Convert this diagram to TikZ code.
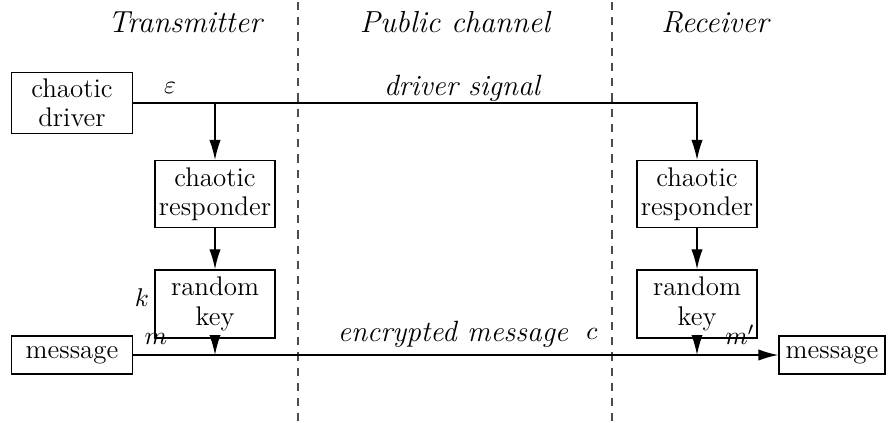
\documentclass[tikz,border=0pt]{standalone}
\usetikzlibrary{arrows.meta}

\begin{document}
\begin{tikzpicture}[x=0.015cm,y=-0.015cm,>=Latex,
  blk/.style={draw,line width=0.6pt,minimum width=1.8cm,align=center,inner sep=1pt,
    font=\fontsize{11.5}{12.5}\selectfont},
  arr/.style={-{Latex[length=3mm,width=1.7mm]},line width=0.6pt},
  head/.style={font=\fontsize{13}{15}\selectfont\itshape},
  lab/.style={font=\fontsize{12.5}{14}\selectfont\itshape},
  sym/.style={font=\fontsize{11}{13}\selectfont},
  divider/.style={line width=0.5pt,black!70,dash pattern=on 3.5pt off 3pt}]
\useasboundingbox (0,0) rectangle (890,423);

\node[head] (tx) at (185,22) {Transmitter};
\node[head] (pub) at (455,22) {Public channel};
\node[head] (rx) at (715,22) {Receiver};
\draw[divider] (298,2) -- (298,421);
\draw[divider] (612,2) -- (612,421);

\node[blk,minimum width=1.815cm,minimum height=0.915cm] (driver) at (72,103) {chaotic\\driver};
\node[blk,minimum height=1.0cm] (respL) at (215,194) {chaotic\\responder};
\node[blk,minimum height=1.0cm] (respR) at (697,194) {chaotic\\responder};
\node[blk,minimum height=1.02cm] (keyL) at (215,304) {random\\key};
\node[blk,minimum height=1.02cm] (keyR) at (697,304) {random\\key};
\node[blk,minimum width=1.815cm,minimum height=0.57cm] (msgL) at (72,355) {message};
\node[blk,minimum width=1.59cm,minimum height=0.57cm] (msgR) at (832,355) {message};

\draw[arr] (driver.east) -| (respR.north);
\draw[arr] (respL.north |- driver.east) -- (respL.north);
\draw[arr] (respL) -- (keyL);
\draw[arr] (respR) -- (keyR);
\draw[arr] (msgL) -- (msgR);
\draw[arr] (keyL.south) -- (keyL.south |- msgL.east);
\draw[arr] (keyR.south) -- (keyR.south |- msgL.east);

\node[sym] (eps) at (170,88) {$\varepsilon$};
\node[lab] (drv) at (462,88) {driver signal};
\node[sym] (k) at (142,298) {$k$};
\node[sym] (m) at (156,339) {$m$};
\node[lab] (enc) at (453,334) {encrypted message};
\node[sym] (c) at (592,334) {$c$};
\node[sym] (mp) at (740,335) {$m'$};
\end{tikzpicture}
\end{document}
